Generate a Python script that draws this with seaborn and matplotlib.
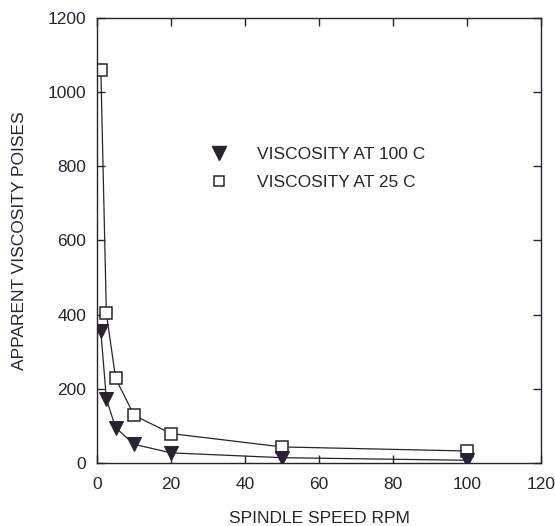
import matplotlib
matplotlib.use("Agg")
import matplotlib.pyplot as plt
from matplotlib.lines import Line2D
import seaborn as sns
import pandas as pd

# values
rpm = [1, 2.5, 5, 10, 20, 50, 100]
visc_100c = [355, 172, 95, 50, 27, 14, 7]
visc_25c = [1060, 403, 228, 128, 79, 43, 32]

df_100 = pd.DataFrame({"rpm": rpm, "visc": visc_100c})
df_25 = pd.DataFrame({"rpm": rpm, "visc": visc_25c})

sns.set_style("ticks")
plt.rcParams['font.family'] = ['Liberation Sans', 'DejaVu Sans']
ink = "#2a2230"

fig = plt.figure(figsize=(5.55, 5.26), dpi=100)
ax = fig.add_axes([0.175, 0.12, 0.80, 0.846])

sns.lineplot(data=df_25, x="rpm", y="visc", ax=ax, color=ink, lw=0.9,
             marker="s", markersize=9, markerfacecolor="white",
             markeredgecolor=ink, markeredgewidth=1.1)
sns.lineplot(data=df_100, x="rpm", y="visc", ax=ax, color=ink, lw=0.9,
             marker="v", markersize=10, markerfacecolor=ink,
             markeredgecolor=ink)

ax.set_xlim(0, 120)
ax.set_ylim(0, 1200)
ax.set_xticks(range(0, 121, 20))
ax.set_yticks(range(0, 1201, 200))
ax.tick_params(direction="in", length=6, width=1, colors=ink, labelsize=12.5,
               top=True, right=True, pad=8)
ax.tick_params(axis="x", pad=10)
for s in ax.spines.values():
    s.set_color(ink)
    s.set_linewidth(1)

ax.set_xlabel("SPINDLE SPEED RPM", fontsize=12.5, color=ink, labelpad=14)
ax.set_ylabel("APPARENT VISCOSITY POISES", fontsize=12.5, color=ink, labelpad=15)

handles = [
    Line2D([], [], ls="none", marker="v", markersize=10, color=ink),
    Line2D([], [], ls="none", marker="s", markersize=7, markerfacecolor="white",
           markeredgecolor=ink, markeredgewidth=1.1),
]
ax.legend(handles, ["VISCOSITY AT 100 C", "VISCOSITY AT 25 C"],
          loc="upper left", bbox_to_anchor=(0.2, 0.745), frameon=False,
          fontsize=12.5, labelcolor=ink, handletextpad=1.2, labelspacing=0.75)

fig.savefig("out.png", dpi=100)
